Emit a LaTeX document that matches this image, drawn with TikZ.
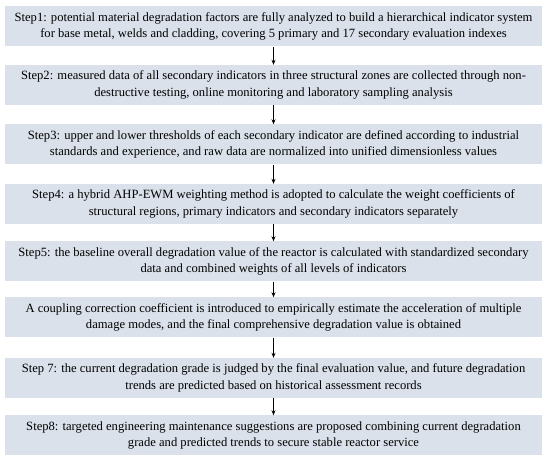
\documentclass[tikz,border=0pt]{standalone}
\usepackage{fontspec}
\setmainfont{Liberation Serif}
\usetikzlibrary{arrows.meta}
\definecolor{stepFill}{HTML}{DAE1EA}

\begin{document}
\begin{tikzpicture}[x=1pt, y=-1pt, font=\fontsize{12.6}{16.5}\selectfont,
StepBox/.style={fill=stepFill, minimum width=537pt, minimum height=40pt, align=center, inner sep=0pt},
StepArrow/.style={-{Stealth[length=5pt, width=4pt]}, line width=0.9pt}]
\useasboundingbox (0,0) rectangle (550,465);
\foreach \name/\ypos/\txt in {
  {s1/26.5/{Step1: potential material degradation factors are fully analyzed to build a hierarchical indicator system\\for base metal, welds and cladding, covering 5 primary and 17 secondary evaluation indexes}},
  {s2/85/{Step2: measured data of all secondary indicators in three structural zones are collected through non-\\destructive testing, online monitoring and laboratory sampling analysis}},
  {s3/144.5/{Step3: upper and lower thresholds of each secondary indicator are defined according to industrial\\standards and experience, and raw data are normalized into unified dimensionless values}},
  {s4/204/{Step4: a hybrid AHP-EWM weighting method is adopted to calculate the weight coefficients of\\structural regions, primary indicators and secondary indicators separately}},
  {s5/261.5/{Step5: the baseline overall degradation value of the reactor is calculated with standardized secondary\\data and combined weights of all levels of indicators}},
  {s6/317.5/{A coupling correction coefficient is introduced to empirically estimate the acceleration of multiple\\damage modes, and the final comprehensive degradation value is obtained}},
  {s7/378/{Step 7: the current degradation grade is judged by the final evaluation value, and future degradation\\trends are predicted based on historical assessment records}},
  {s8/435.5/{Step8: targeted engineering maintenance suggestions are proposed combining current degradation\\grade and predicted trends to secure stable reactor service}}%
} {
  \node [StepBox] (\name) at (273.5, \ypos) {\txt};
}
\foreach \from/\to in {s1/s2, s2/s3, s3/s4, s4/s5, s5/s6, s6/s7, s7/s8} {
  \draw [StepArrow] (\from.south) -- (\to.north);
}
\end{tikzpicture}
\end{document}
